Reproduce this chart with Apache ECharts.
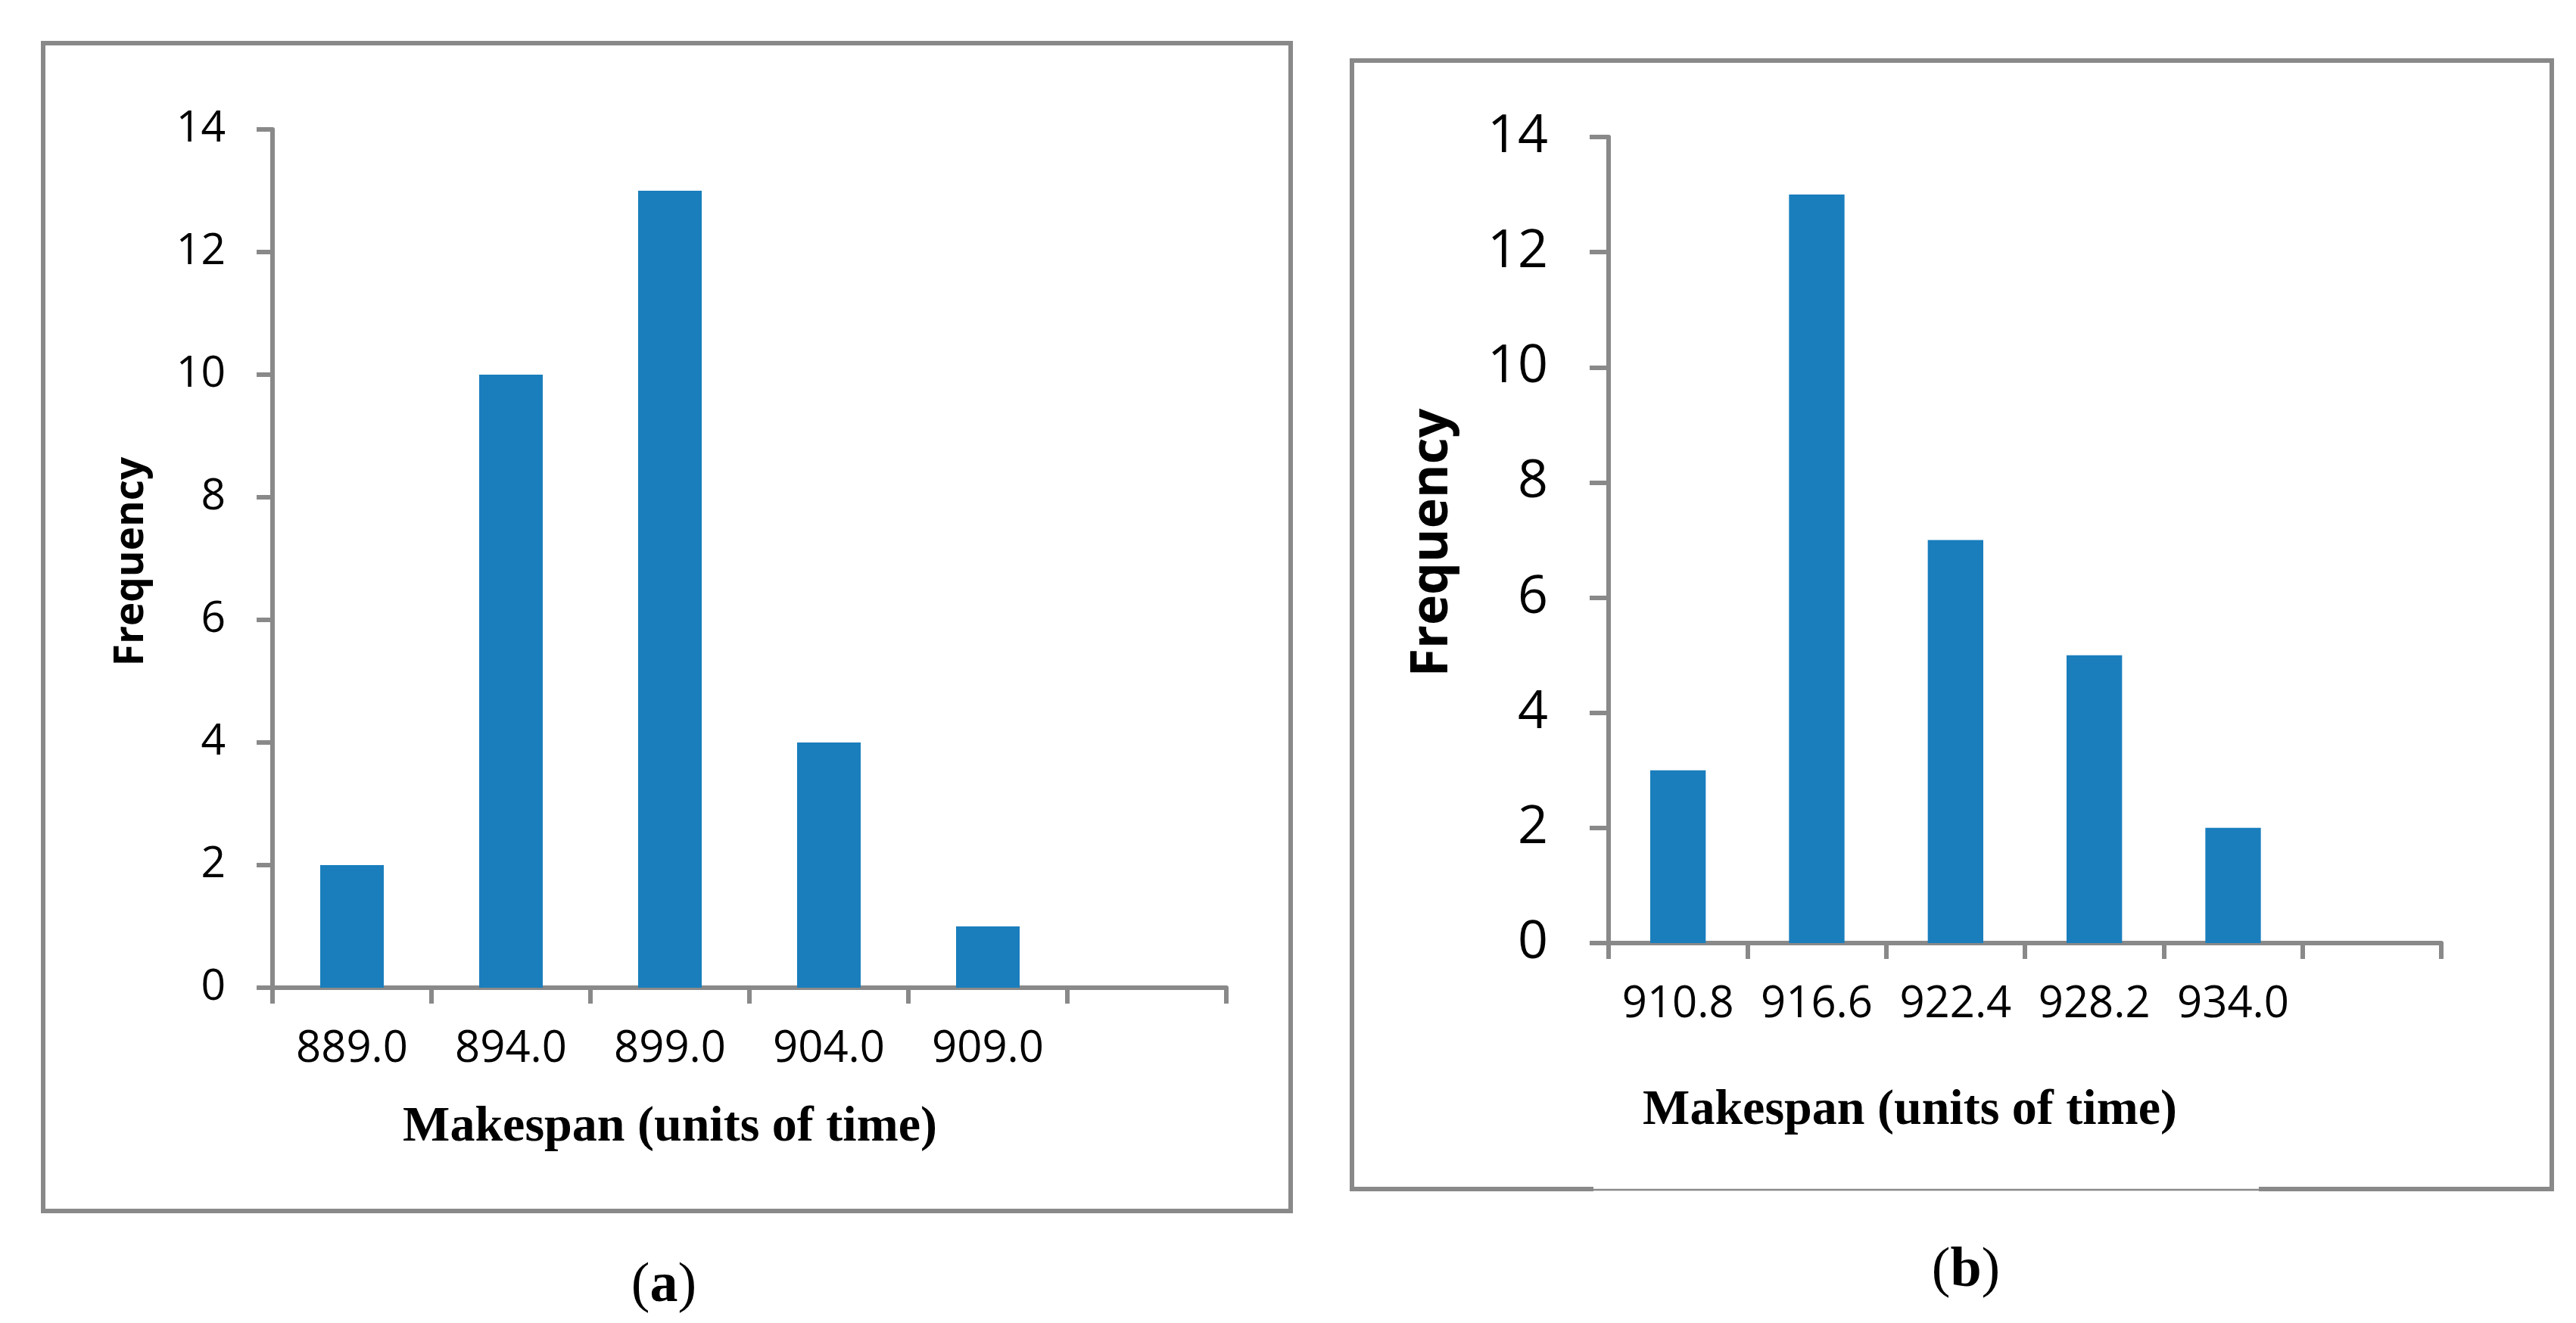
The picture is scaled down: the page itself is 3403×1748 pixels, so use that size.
<!DOCTYPE html>
<html>
<head>
<meta charset="utf-8">
<script src="https://cdn.jsdelivr.net/npm/echarts@6/dist/echarts.min.js"></script>
<style>
html,body{margin:0;padding:0;background:#fff;}
#chart{width:3403px;height:1748px;}
</style>
</head>
<body>
<div id="chart"></div>
<script>
// Panel (a)
const categoriesA = ['889.0', '894.0', '899.0', '904.0', '909.0', ''];
const frequencyA = [2, 10, 13, 4, 1];
// Panel (b)
const categoriesB = ['910.8', '916.6', '922.4', '928.2', '934.0', ''];
const frequencyB = [3, 13, 7, 5, 2];
// Y tick settings
const yMin = 0, yMax = 14, yStep = 2;

const GRAY = '#898989';
const BLUE = '#1a7ebd';
const NUM_FONT = '"Open Sans", "Noto Sans", sans-serif';
const SERIF = '"Liberation Serif", "DejaVu Serif", serif';

const chart = echarts.init(document.getElementById('chart'), null, {renderer: 'canvas'});

function xAxisCfg(gridIndex, cats) {
  return {
    type: 'category', gridIndex: gridIndex, data: cats, boundaryGap: true,
    axisLine: {show: true, lineStyle: {color: GRAY, width: 6}},
    axisTick: {show: true, length: 21, lineStyle: {color: GRAY, width: 6}},
    axisLabel: {color: '#000', fontFamily: NUM_FONT, fontSize: 58, margin: 52, interval: 0},
    splitLine: {show: false}
  };
}
function yAxisCfg(gridIndex, fontSize, tickLen, margin) {
  return {
    type: 'value', gridIndex: gridIndex, min: yMin, max: yMax, interval: yStep,
    axisLine: {show: true, lineStyle: {color: GRAY, width: 6}},
    axisTick: {show: true, length: tickLen, lineStyle: {color: GRAY, width: 6}},
    axisLabel: {color: '#000', fontFamily: NUM_FONT, fontSize: fontSize, margin: margin},
    splitLine: {show: false}
  };
}

const option = {
  backgroundColor: '#fff',
  animation: false,
  grid: [
    {left: 360, top: 171, width: 1260, height: 1134},
    {left: 2125, top: 181, width: 1100, height: 1065}
  ],
  xAxis: [xAxisCfg(0, categoriesA), xAxisCfg(1, categoriesB)],
  yAxis: [yAxisCfg(0, 57, 21, 62), yAxisCfg(1, 70, 25, 80)],
  series: [
    {type: 'bar', xAxisIndex: 0, yAxisIndex: 0, data: frequencyA, barWidth: '40%',
     itemStyle: {color: BLUE}},
    {type: 'bar', xAxisIndex: 1, yAxisIndex: 1, data: frequencyB, barWidth: '40%',
     itemStyle: {color: BLUE}}
  ],
  graphic: [
    // Panel (a) border
    {type: 'rect', shape: {x: 57, y: 57, width: 1648, height: 1543},
     style: {fill: 'none', stroke: GRAY, lineWidth: 6}, z: 0},
    // Panel (b) border
    {type: 'polyline', shape: {points: [[2105, 1571], [1786, 1571], [1786, 80], [3371, 80], [3371, 1571], [2984, 1571]]},
     style: {fill: 'none', stroke: GRAY, lineWidth: 6}, z: 0},
    {type: 'line', shape: {x1: 2105, y1: 1572, x2: 2984, y2: 1572},
     style: {stroke: GRAY, lineWidth: 2.5}, z: 0},
    // Y axis names
    {type: 'text', x: 174, y: 742, rotation: Math.PI / 2,
     style: {text: 'Frequency', font: 'bold 53px "Open Sans", sans-serif', fill: '#000', align: 'center', verticalAlign: 'middle'}},
    {type: 'text', x: 1893, y: 717, rotation: Math.PI / 2,
     style: {text: 'Frequency', font: 'bold 68px "Open Sans", sans-serif', fill: '#000', align: 'center', verticalAlign: 'middle'}},
    // X axis names
    {type: 'text', x: 885, y: 1490,
     style: {text: 'Makespan (units of time)', font: 'bold 66px ' + SERIF, fill: '#000', align: 'center', verticalAlign: 'middle'}},
    {type: 'text', x: 2523, y: 1468,
     style: {text: 'Makespan (units of time)', font: 'bold 66px ' + SERIF, fill: '#000', align: 'center', verticalAlign: 'middle'}},
    // Panel captions
    {type: 'text', x: 877, y: 1700,
     style: {text: '{p|(}{b|a}{p|)}', align: 'center', verticalAlign: 'middle',
       rich: {p: {font: '74px ' + SERIF, fill: '#000'}, b: {font: 'bold 74px ' + SERIF, fill: '#000'}}}},
    {type: 'text', x: 2597, y: 1680,
     style: {text: '{p|(}{b|b}{p|)}', align: 'center', verticalAlign: 'middle',
       rich: {p: {font: '74px ' + SERIF, fill: '#000'}, b: {font: 'bold 74px ' + SERIF, fill: '#000'}}}}
  ]
};
chart.setOption(option);
</script>
</body>
</html>
